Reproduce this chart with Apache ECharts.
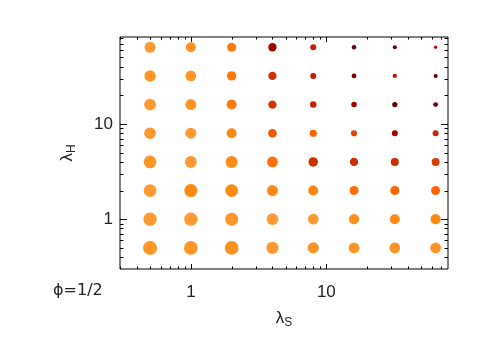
<!DOCTYPE html>
<html><head><meta charset="utf-8">
<script src="https://cdn.jsdelivr.net/npm/echarts@6/dist/echarts.min.js"></script>
<style>html,body{margin:0;padding:0;background:#fff}#c{width:485px;height:346px}</style>
</head><body><div id="c"></div>
<script>
// axes categories (grid values)
const lambdaS = [0.5, 1, 2, 4, 8, 16, 32, 64];
const lambdaH = [0.5, 1, 2, 4, 8, 16, 32, 64];

// marker magnitude per lambdaH row, columns follow lambdaS
const mag_H0_5 = [14, 13.7, 13.7, 12.3, 11.3, 10.7, 10.7, 10.7];
const mag_H1   = [13.3, 13.3, 13, 11.7, 10.7, 10.3, 10, 10.3];
const mag_H2   = [12.7, 13, 12.7, 11, 10, 9, 9, 9];
const mag_H4   = [12.7, 12, 12, 10.7, 9.5, 8.3, 8, 8];
const mag_H8   = [11.7, 11, 10, 8.7, 7.2, 6.2, 6, 6];
const mag_H16  = [11.7, 11, 10, 8.3, 6.5, 5.5, 5.2, 4.8];
const mag_H32  = [11.3, 10.7, 9.3, 8.3, 6, 4.8, 4.3, 4];
const mag_H64  = [11, 10, 9, 8.3, 6, 4.5, 4, 3.3];

// colour level per lambdaH row: 0 = light orange ... 1 = dark red
const lvl_H0_5 = [0.1, 0.1, 0.14, 0.06, 0.12, 0.12, 0.12, 0.12];
const lvl_H1   = [0.06, 0.06, 0.1, 0.06, 0.06, 0.15, 0.2, 0.2];
const lvl_H2   = [0.06, 0.2, 0.2, 0.2, 0.22, 0.35, 0.4, 0.4];
const lvl_H4   = [0.1, 0.06, 0.18, 0.33, 0.6, 0.62, 0.62, 0.55];
const lvl_H8   = [0.06, 0.06, 0.2, 0.45, 0.4, 0.52, 0.85, 0.66];
const lvl_H16  = [0.06, 0.12, 0.28, 0.58, 0.68, 0.85, 1.0, 0.95];
const lvl_H32  = [0.12, 0.12, 0.3, 0.6, 0.7, 0.95, 0.75, 1.0];
const lvl_H64  = [0.06, 0.14, 0.28, 0.85, 0.7, 0.97, 0.97, 0.78];

// tick values
const xMajorTicks = [1, 10];
const xMinorTicks = [0.3,0.4,0.5,0.6,0.7,0.8,0.9,2,3,4,5,6,7,8,9,20,30,40,50,60,70,80];
const yMajorTicks = [1, 10];
const yMinorTicks = [0.3,0.4,0.5,0.6,0.7,0.8,0.9,2,3,4,5,6,7,8,9,20,30,40,50,60,70,80];
const xLabels = [1, 10];
const yLabels = [1, 10];

const magRows = [mag_H0_5, mag_H1, mag_H2, mag_H4, mag_H8, mag_H16, mag_H32, mag_H64];
const lvlRows = [lvl_H0_5, lvl_H1, lvl_H2, lvl_H4, lvl_H8, lvl_H16, lvl_H32, lvl_H64];

const pts = [];
lambdaH.forEach((h, i) => {
  lambdaS.forEach((s, j) => {
    pts.push([s, h, magRows[i][j], lvlRows[i][j]]);
  });
});

const tickData = [];
xMajorTicks.forEach(v => tickData.push([v, 1, 0]));
xMinorTicks.forEach(v => tickData.push([v, 1, 1]));
yMajorTicks.forEach(v => tickData.push([1, v, 2]));
yMinorTicks.forEach(v => tickData.push([1, v, 3]));

const FONT = 'Liberation Sans';
const TXT = '#222';
function isLabel(v, list) {
  return list.some(t => Math.abs(v - t) / t < 1e-6);
}

function renderTick(params, api) {
  const cs = params.coordSys;
  const kind = api.value(2);
  const st = { stroke: '#000', lineWidth: 1 };
  if (kind < 2) {
    const px = Math.round(api.coord([api.value(0), 1])[0]) + 0.5;
    if (px < cs.x + 0.5 || px > cs.x + cs.width - 0.5) return null;
    const L = kind === 0 ? 5 : 2.5;
    const yb = cs.y + cs.height, yt = cs.y;
    return { type: 'group', children: [
      { type: 'line', shape: { x1: px, y1: yb, x2: px, y2: yb - L }, style: st },
      { type: 'line', shape: { x1: px, y1: yt, x2: px, y2: yt + L }, style: st }
    ]};
  } else {
    const py = Math.round(api.coord([1, api.value(1)])[1]) + 0.5;
    if (py < cs.y + 0.5 || py > cs.y + cs.height - 0.5) return null;
    const L = kind === 2 ? 7 : 3.5;
    const xl = cs.x, xr = cs.x + cs.width;
    return { type: 'group', children: [
      { type: 'line', shape: { x1: xl, y1: py, x2: xl + L, y2: py }, style: st },
      { type: 'line', shape: { x1: xr, y1: py, x2: xr - L, y2: py }, style: st }
    ]};
  }
}

const chart = echarts.init(document.getElementById('c'), null, { renderer: 'canvas' });
chart.setOption({
  animation: false,
  backgroundColor: '#fff',
  grid: { left: 120, top: 37, right: 37, bottom: 77, show: true, borderColor: '#000', borderWidth: 1, backgroundColor: 'transparent' },
  xAxis: {
    type: 'log', logBase: 10, min: 0.3, max: 79,
    axisLine: { show: false }, axisTick: { show: false }, splitLine: { show: false }, minorTick: { show: false },
    axisLabel: { margin: 15, fontSize: 17, fontFamily: FONT, color: TXT,
      formatter: v => isLabel(v, xLabels) ? String(Math.round(v)) : '' },
    name: '{l|λ}{s|S}', nameLocation: 'middle', nameGap: 38,
    nameTextStyle: { rich: {
      l: { fontSize: 17, fontFamily: FONT, color: TXT, lineHeight: 22 },
      s: { fontSize: 12, fontFamily: FONT, color: TXT, lineHeight: 12, padding: [8, 0, 0, 0], verticalAlign: 'bottom' }
    }}
  },
  yAxis: {
    type: 'log', logBase: 10, min: 0.3, max: 82,
    axisLine: { show: false }, axisTick: { show: false }, splitLine: { show: false }, minorTick: { show: false },
    axisLabel: { margin: 7, fontSize: 17, fontFamily: FONT, color: TXT,
      formatter: v => isLabel(v, yLabels) ? String(Math.round(v)) : '' },
    name: '{l|λ}{s|H}', nameLocation: 'middle', nameGap: 42,
    nameTextStyle: { rich: {
      l: { fontSize: 17, fontFamily: FONT, color: TXT, lineHeight: 22 },
      s: { fontSize: 12, fontFamily: FONT, color: TXT, lineHeight: 12, padding: [8, 0, 0, 0], verticalAlign: 'bottom' }
    }}
  },
  visualMap: {
    type: 'continuous', show: false, dimension: 3, min: 0, max: 1, seriesIndex: 0,
    inRange: { color: ['#ffa040', '#ff9628', '#ff8a12', '#ff7608', '#ff6400', '#e84a00', '#cc3000', '#cc1800', '#b80800', '#8a0000', '#5c0000'] }
  },
  graphic: [{
    type: 'text', left: 53, top: 283,
    style: { text: 'ϕ=1/2', font: '16px "DejaVu Sans"', fill: TXT }
  }],
  series: [
    {
      type: 'scatter', data: pts, symbol: 'circle',
      symbolSize: v => v[2],
      itemStyle: { opacity: 1 },
      z: 3
    },
    {
      type: 'custom', data: tickData, renderItem: renderTick,
      encode: { x: 0, y: 1 }, clip: false, silent: true, z: 4
    }
  ]
});
</script></body></html>
